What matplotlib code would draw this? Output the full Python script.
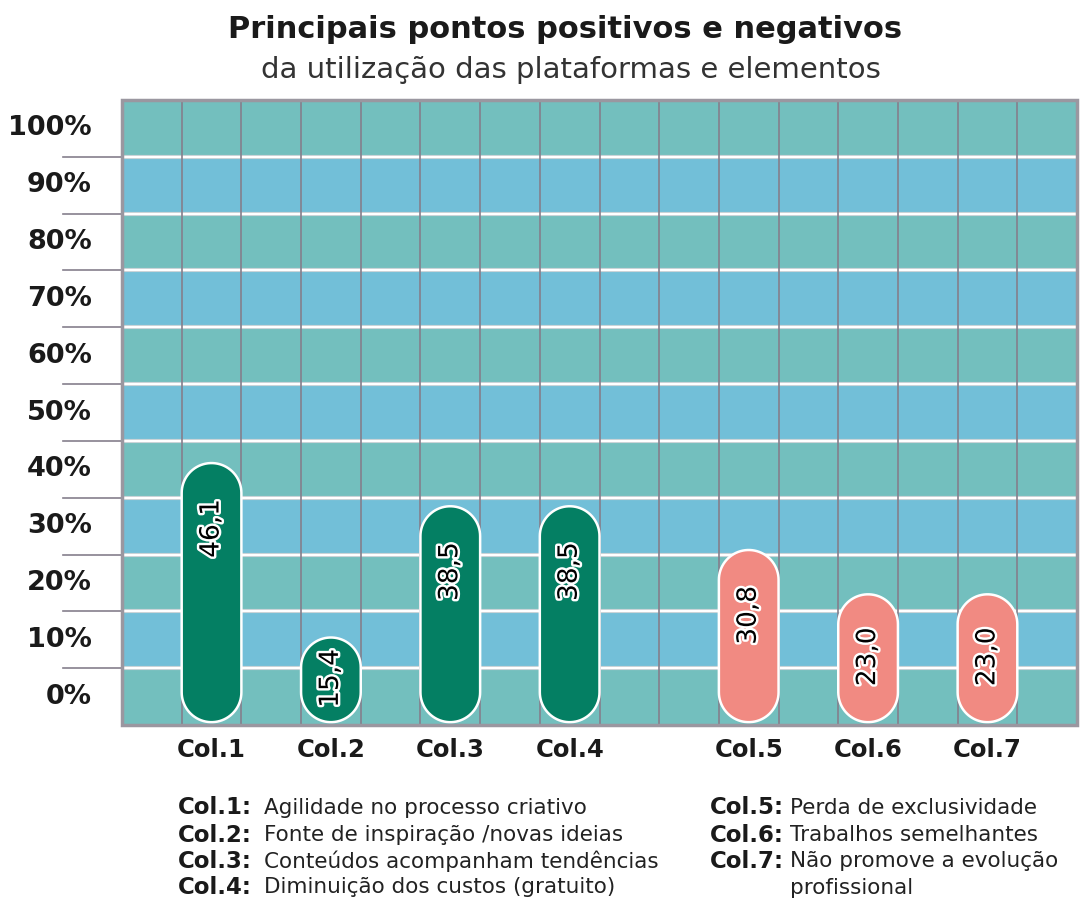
import matplotlib
import numpy as np

matplotlib.use("Agg")

import matplotlib.pyplot as plt  # noqa: E402
import matplotlib.patheffects as pe  # noqa: E402
from matplotlib.patches import PathPatch, Rectangle  # noqa: E402
from matplotlib.path import Path  # noqa: E402

# data
columns = ["Col.1", "Col.2", "Col.3", "Col.4", "Col.5", "Col.6", "Col.7"]
values = [46.1, 15.4, 38.5, 38.5, 30.8, 23.0, 23.0]
kinds = ["pos", "pos", "pos", "pos", "neg", "neg", "neg"]
descriptions = [
    "Agilidade no processo criativo",
    "Fonte de inspiração /novas ideias",
    "Conteúdos acompanham tendências",
    "Diminuição dos custos (gratuito)",
    "Perda de exclusividade",
    "Trabalhos semelhantes",
    "Não promove a evolução\nprofissional",
]
y_labels = ["0%", "10%", "20%", "30%", "40%", "50%", "60%", "70%", "80%", "90%", "100%"]

KIND_COLORS = {"pos": "#047f63", "neg": "#f18a82"}
BAND_COLORS = ["#73bfbe", "#72bfd8"]
GRID = "#857f8c"
FONT = "DejaVu Sans"
INK = "#1a1a1a"

W, H = 1080, 907
fig = plt.figure(figsize=(W / 100, H / 100), dpi=100)
ax_l, ax_r, ax_t, ax_b = 122, 1077, 100, 725
ax = fig.add_axes([ax_l / W, 1 - ax_b / H, (ax_r - ax_l) / W, (ax_b - ax_t) / H])

n_cells = 16
n_bands = len(y_labels)
ax.set_xlim(0, n_cells)
ax.set_ylim(0, n_bands * 10)
ax.axis("off")
px_x = n_cells / (ax_r - ax_l)          # data units per pixel, x
px_y = n_bands * 10 / (ax_b - ax_t)     # data units per pixel, y


def pill(x0, y0, width, top):
    """Rounded-cap bar path in data coords (semicircular ends on screen)."""
    rx = width / 2
    ry = rx * px_y / px_x
    cx = x0 + rx
    t = np.linspace(0, np.pi, 40)
    upper = np.column_stack([cx + rx * np.cos(t), top - ry + ry * np.sin(t)])
    lower = np.column_stack([cx - rx * np.cos(t), y0 + ry - ry * np.sin(t)])
    verts = np.vstack([upper, lower, upper[:1]])
    codes = [Path.MOVETO] + [Path.LINETO] * (len(verts) - 2) + [Path.CLOSEPOLY]
    return Path(verts, codes)


# background bands
for i in range(n_bands):
    ax.add_patch(Rectangle((0, i * 10), n_cells, 10, facecolor=BAND_COLORS[i % 2],
                           edgecolor="none", zorder=0))
for i in range(1, n_bands):
    ax.axhline(i * 10, color="#c4cfd4", linewidth=3.0, zorder=1)
    ax.axhline(i * 10, color="white", linewidth=1.6, zorder=1)
for j in range(1, n_cells):
    ax.axvline(j, color=GRID, linewidth=1.2, zorder=1)
ax.add_patch(Rectangle((0, 0), n_cells, n_bands * 10, facecolor="none",
                       edgecolor="#9a97a0", linewidth=2.5, zorder=5, clip_on=False))

# left tick marks and labels
for i in range(1, n_bands):
    ax.plot([-59 * px_x, 0], [i * 10, i * 10], color=GRID, linewidth=1.2, clip_on=False)
for i, lab in enumerate(y_labels):
    ax.text(-30 * px_x, i * 10 + 5, lab, ha="right", va="center",
            fontsize=19.5, fontweight="bold", family=FONT, color=INK)

# pill-shaped bars
for i, (name, v, k) in enumerate(zip(columns, values, kinds)):
    x0 = 1 + 2 * i + (1 if k == "neg" else 0)
    ax.add_patch(PathPatch(pill(x0, 0.5, 1, v), facecolor=KIND_COLORS[k],
                           edgecolor="white", linewidth=1.8, zorder=3))
    ly = max(v - 11.5, v / 2 + 0.5)
    ax.text(x0 + 0.5, ly, f"{v:.1f}".replace(".", ","), rotation=90, ha="center",
            va="center", fontsize=19, family=FONT, color="black", zorder=4,
            path_effects=[pe.withStroke(linewidth=3.5, foreground="white")])
    ax.text(x0 + 0.5, -25 * px_y, name, ha="center", va="center", fontsize=17.5,
            fontweight="bold", family=FONT, color=INK)

# titles
fig.text(565 / W, 1 - 30 / H, "Principais pontos positivos e negativos", ha="center",
         va="center", fontsize=22, fontweight="bold", family=FONT, color=INK)
fig.text(571 / W, 1 - 70 / H, "da utilização das plataformas e elementos", ha="center",
         va="center", fontsize=21, family=FONT, color="#333333")

# legend
rows_y = [808, 835, 861, 887]
for i, (name, desc) in enumerate(zip(columns, descriptions)):
    if kinds[i] == "pos":
        xk, xd, y = 178, 264, rows_y[i]
    else:
        xk, xd, y = 710, 790, rows_y[i - 4]
    fig.text(xk / W, 1 - y / H, name + ":", ha="left", va="center", fontsize=16.5,
             fontweight="bold", family=FONT, color=INK)
    for m, part in enumerate(desc.split("\n")):
        fig.text(xd / W, 1 - (y + 27 * m) / H, part, ha="left", va="center",
                 fontsize=15.5, family=FONT, color="#222222")

fig.savefig("out.png", dpi=100, facecolor="white")
